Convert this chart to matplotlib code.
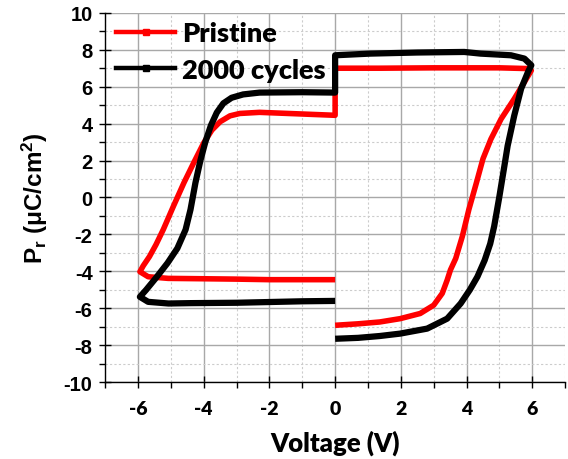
import matplotlib
matplotlib.use("Agg")
import matplotlib.pyplot as plt
from matplotlib.lines import Line2D
from matplotlib.ticker import MultipleLocator

plt.rcParams['mathtext.fontset'] = 'custom'
plt.rcParams['mathtext.rm'] = 'Liberation Sans:bold'
plt.rcParams['mathtext.bf'] = 'Liberation Sans:bold'
plt.rcParams['mathtext.it'] = 'Liberation Sans:bold'
plt.rcParams['axes.unicode_minus'] = False

# ---- data ----
pristine_v = [0.0, -1.0, -2.0, -3.0, -4.0, -5.08, -5.69, -5.94,
              -5.84, -5.65, -5.45, -5.23, -4.92, -4.6, -4.3, -4.0, -3.75, -3.5, -3.2, -2.9, -2.3, -1.0, 0.0,
              0.0, 1.36, 3.0, 5.0, 5.87, 5.97,
              5.76, 5.45, 5.05, 4.74, 4.5, 4.3, 4.07, 3.87, 3.67, 3.51, 3.41, 3.26, 3.0, 2.59, 1.98, 1.36, 0.7, 0.0]
pristine_p = [-4.45, -4.45, -4.45, -4.42, -4.4, -4.38, -4.29, -4.02,
              -3.7, -3.2, -2.55, -1.74, -0.47, 0.8, 1.89, 2.95, 3.65, 4.1, 4.42, 4.55, 4.61, 4.52, 4.45,
              7.0, 7.0, 7.02, 7.02, 6.98, 6.88,
              6.25, 5.34, 4.25, 3.16, 2.1, 0.8, -0.65, -2.11, -3.3, -3.92, -4.47, -5.19, -5.83, -6.28, -6.56, -6.74, -6.84, -6.92]

cycled_v = [0.0, -1.0, -2.0, -3.0, -4.4, -5.07, -5.69, -5.94,
            -5.75, -5.45, -5.1, -4.8, -4.55, -4.4, -4.25, -4.1, -3.95, -3.78, -3.6, -3.4, -3.15, -2.8, -2.3, -1.0, 0.0,
            0.0, 1.06, 2.5, 3.93, 4.43, 5.35, 5.76, 5.97,
            5.87, 5.66, 5.45, 5.25, 5.15, 5.0, 4.84, 4.72, 4.55, 4.33, 4.1, 3.82, 3.41, 2.8, 1.98, 1.36, 0.7, 0.0]
cycled_p = [-5.6, -5.62, -5.66, -5.7, -5.72, -5.74, -5.65, -5.38,
            -5.0, -4.35, -3.55, -2.75, -1.74, -0.65, 0.8, 2.0, 3.0, 3.9, 4.6, 5.1, 5.4, 5.58, 5.68, 5.7, 5.68,
            7.7, 7.79, 7.85, 7.88, 7.79, 7.7, 7.52, 7.16,
            6.8, 5.89, 4.43, 2.8, 1.7, 0.07, -1.56, -2.5, -3.4, -4.29, -5.0, -5.74, -6.56, -7.1, -7.37, -7.5, -7.6, -7.65]

labels = ["Pristine", "2000 cycles"]
colors = ["#ff0000", "#000000"]

xticks = [-6, -4, -2, 0, 2, 4, 6]
yticks = [-10, -8, -6, -4, -2, 0, 2, 4, 6, 8, 10]

fig = plt.figure(figsize=(5.68, 4.6), dpi=100)
ax = fig.add_axes([0.185, 0.167, 0.81, 0.803])

ax.plot(pristine_v, pristine_p, color=colors[0], lw=4.0, solid_joinstyle='round', solid_capstyle='butt', zorder=3)
ax.plot(cycled_v, cycled_p, color=colors[1], lw=4.5, solid_joinstyle='round', solid_capstyle='butt', zorder=4)

ax.set_xlim(-7, 7)
ax.set_ylim(-10, 10)
ax.set_xticks(xticks)
ax.set_yticks(yticks)
ax.xaxis.set_minor_locator(MultipleLocator(1))
ax.yaxis.set_minor_locator(MultipleLocator(1))

ax.grid(True, which='major', color='#a8a8a8', lw=1.0, ls='-', zorder=0)
ax.grid(True, which='minor', color='#cccccc', lw=0.8, ls=(0, (2, 2)), zorder=0)
ax.set_axisbelow(True)

for s in ['top', 'right']:
    ax.spines[s].set_visible(False)
for s in ['left', 'bottom']:
    ax.spines[s].set_color('black')
    ax.spines[s].set_linewidth(1.0)

ax.tick_params(axis='both', which='major', direction='inout', length=8, width=1.0, color='black')
ax.tick_params(axis='both', which='minor', direction='out', length=4, width=1.0, color='black')
ax.tick_params(axis='y', which='major', pad=5)
ax.tick_params(axis='x', which='major', pad=9)

for lab in ax.get_yticklabels():
    lab.set_fontfamily('Liberation Sans')
    lab.set_fontweight('bold')
    lab.set_fontsize(14.5)
for lab in ax.get_xticklabels():
    lab.set_fontfamily('Lato')
    lab.set_fontweight('heavy')
    lab.set_fontsize(14)

ax.set_xlabel("Voltage (V)", fontfamily='Lato', fontweight='heavy', fontsize=18.5, labelpad=9)
ax.set_ylabel(r"P$_\mathregular{r}$ (μC/cm$^\mathregular{2}$)", fontfamily='Liberation Sans',
              fontweight='bold', fontsize=17.5, labelpad=10)

handles = [Line2D([], [], color=c, lw=3.2, marker='s', markersize=5) for c in colors]
leg = ax.legend(handles, labels, loc='upper left', bbox_to_anchor=(0.0, 1.006), frameon=False,
                prop={'family': 'Lato', 'weight': 'heavy', 'size': 19.5},
                handlelength=2.2, handletextpad=0.25, labelspacing=0.45, borderpad=0.2, borderaxespad=0.2)

fig.savefig("out.png", dpi=100)
